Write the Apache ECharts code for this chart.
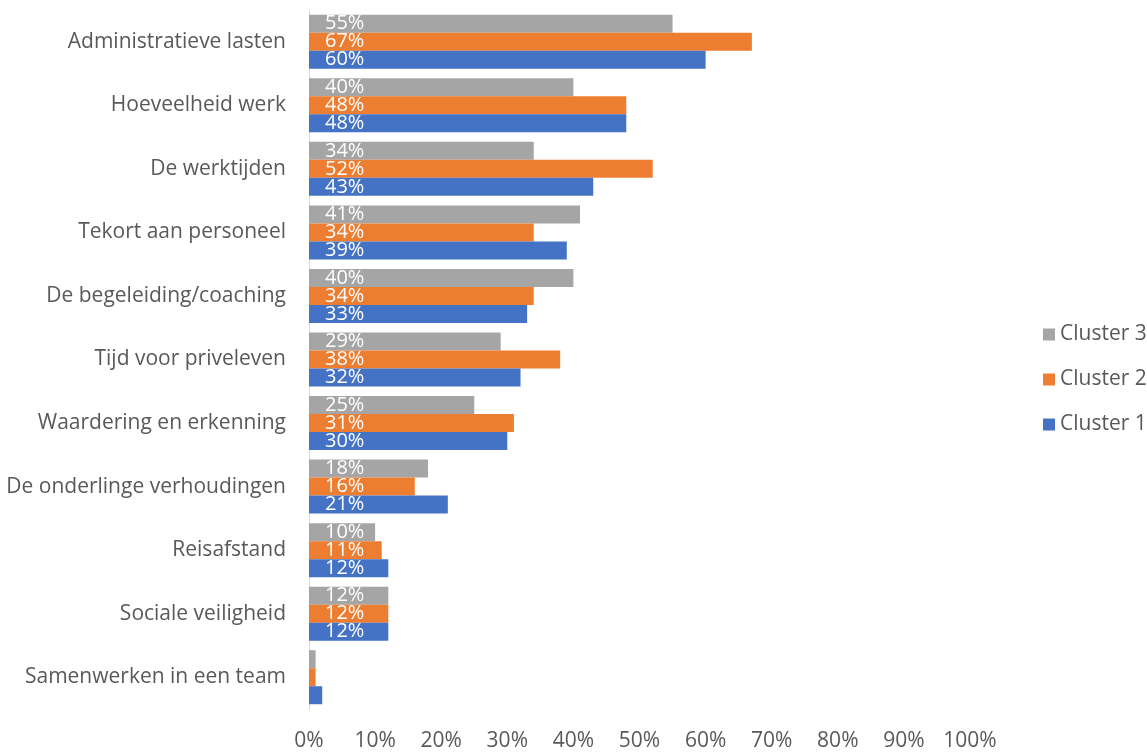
<!DOCTYPE html>
<html>
<head>
<meta charset="utf-8">
<script src="https://cdn.jsdelivr.net/npm/echarts@6/dist/echarts.min.js"></script>
<style>
  html, body { margin: 0; padding: 0; background: #fff; }
  #chart { width: 1147px; height: 752px; }
</style>
</head>
<body>
<div id="chart"></div>
<script>
var categories = [
  "Administratieve lasten",
  "Hoeveelheid werk",
  "De werktijden",
  "Tekort aan personeel",
  "De begeleiding/coaching",
  "Tijd voor priveleven",
  "Waardering en erkenning",
  "De onderlinge verhoudingen",
  "Reisafstand",
  "Sociale veiligheid",
  "Samenwerken in een team"
];
var cluster1 = [60, 48, 43, 39, 33, 32, 30, 21, 12, 12, 2];
var cluster2 = [67, 48, 52, 34, 34, 38, 31, 16, 11, 12, 1];
var cluster3 = [55, 40, 34, 41, 40, 29, 25, 18, 10, 12, 1];
var xTicks = [0, 10, 20, 30, 40, 50, 60, 70, 80, 90, 100];

var FONT = "Open Sans";
var chart = echarts.init(document.getElementById("chart"));

// kleine waarden (< 5%) krijgen geen label, zoals in het origineel
function withLabels(values) {
  return values.map(function (v) {
    return { value: v, label: { show: v >= 5 } };
  });
}

function makeSeries(name, values, color) {
  return {
    name: name,
    type: "bar",
    data: withLabels(values),
    itemStyle: { color: color },
    barGap: "0%",
    barCategoryGap: "15%",
    label: {
      show: true,
      position: "insideLeft",
      distance: 16,
      formatter: "{c}%",
      color: "#fff",
      fontFamily: FONT,
      fontSize: 20
    }
  };
}

var option = {
  animation: false,
  textStyle: { fontFamily: FONT },
  grid: { left: 309, right: 177, top: 10, bottom: 42 },
  legend: {
    orient: "vertical",
    left: 1038,
    top: 319,
    itemWidth: 12,
    itemHeight: 12,
    itemGap: 24,
    itemTextGap: 7,
    icon: "rect",
    data: ["Cluster 3", "Cluster 2", "Cluster 1"],
    textStyle: { color: "#595959", fontSize: 21, fontFamily: FONT }
  },
  xAxis: {
    type: "value",
    min: 0,
    max: xTicks[xTicks.length - 1],
    interval: 10,
    splitLine: { show: false },
    axisLine: { show: false },
    axisTick: { show: false },
    axisLabel: {
      formatter: "{value}%",
      color: "#595959",
      fontSize: 21,
      fontFamily: FONT,
      margin: 22
    }
  },
  yAxis: {
    type: "category",
    inverse: true,
    data: categories,
    axisLine: { show: true, lineStyle: { color: "#d9d9d9", width: 1 } },
    axisTick: { show: false },
    axisLabel: {
      color: "#595959",
      fontSize: 21,
      fontFamily: FONT,
      margin: 23
    }
  },
  series: [
    makeSeries("Cluster 3", cluster3, "#a5a5a5"),
    makeSeries("Cluster 2", cluster2, "#ed7d31"),
    makeSeries("Cluster 1", cluster1, "#4472c4")
  ]
};
chart.setOption(option);
</script>
</body>
</html>
